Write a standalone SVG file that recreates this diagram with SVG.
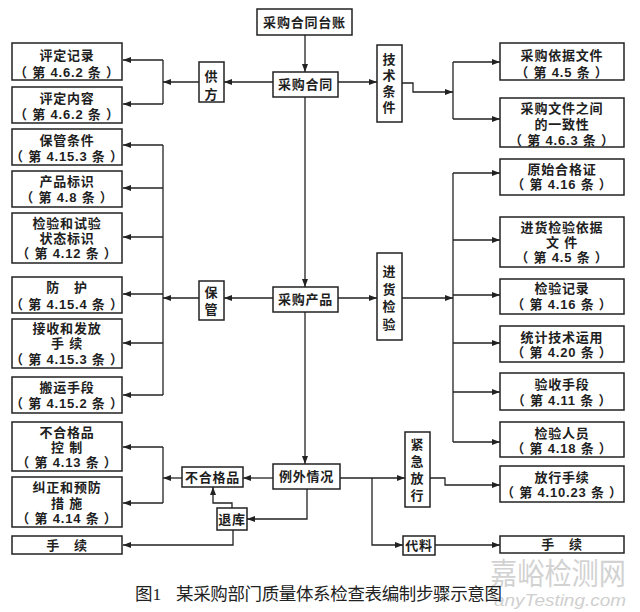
<svg xmlns="http://www.w3.org/2000/svg" width="640" height="612" viewBox="0 0 640 612">
<defs>
<style>
.b{fill:#fff;stroke:#222;stroke-width:1.5}
.t{font-family:"Liberation Sans","Noto Sans CJK SC",sans-serif;font-size:13px;font-weight:700;fill:#1e1e1e;text-anchor:middle;dominant-baseline:central;letter-spacing:0.8px}
.c path{fill:none;stroke:#222;stroke-width:1.3}
.a{marker-end:url(#ah)}
.cap{font-family:"Liberation Serif","Noto Sans CJK SC",serif;font-size:17.5px;fill:#222}
.wm{font-family:"Liberation Sans","Noto Sans CJK SC",sans-serif;fill:#d2d2d2}
</style>
<marker id="ah" viewBox="0 0 8 6" refX="8" refY="3" markerWidth="8" markerHeight="6" markerUnits="userSpaceOnUse" orient="auto"><path d="M0,0L8,3L0,6z" fill="#222"/></marker>
</defs>
<rect width="640" height="612" fill="#fff"/>

<!-- watermark -->
<text class="wm" x="490" y="584" font-size="30" textLength="136" lengthAdjust="spacingAndGlyphs">嘉峪检测网</text>
<text class="wm" x="494" y="606" font-size="16" font-style="italic" textLength="132" lengthAdjust="spacingAndGlyphs" style="fill:#cfcfcf">anyTesting.com</text>

<g class="c">
<path class="a" d="M305,35V72"/>
<path class="a" d="M273,82H224"/>
<path class="a" d="M199,82H163"/>
<path d="M163,60V104"/>
<path class="a" d="M163,60H123"/>
<path class="a" d="M163,104H123"/>
<path class="a" d="M338,82H377"/>
<path class="a" d="M402,83H413V92H453"/>
<path d="M453,62V119"/>
<path class="a" d="M453,62H500"/>
<path class="a" d="M453,119H500"/>
<path class="a" d="M305,97V287"/>
<path class="a" d="M273,298H224"/>
<path class="a" d="M199,298H163"/>
<path d="M163,145V395"/>
<path class="a" d="M163,145H123"/>
<path class="a" d="M163,188H123"/>
<path class="a" d="M163,237H123"/>
<path class="a" d="M163,294H123"/>
<path class="a" d="M163,343H123"/>
<path class="a" d="M163,395H123"/>
<path class="a" d="M338,298H377"/>
<path class="a" d="M402,298H453"/>
<path d="M453,173V442"/>
<path class="a" d="M453,173H500"/>
<path class="a" d="M453,240H500"/>
<path class="a" d="M453,295H500"/>
<path class="a" d="M453,343H500"/>
<path class="a" d="M453,392H500"/>
<path class="a" d="M453,442H500"/>
<path class="a" d="M305,312V464"/>
<path class="a" d="M273,478H243"/>
<path class="a" d="M182,478H163"/>
<path d="M163,447V503"/>
<path class="a" d="M163,447H123"/>
<path class="a" d="M163,503H123"/>
<path class="a" d="M307,489V519H247"/>
<path class="a" d="M232,508V503H213V487"/>
<path class="a" d="M233,530V545H123"/>
<path class="a" d="M340,478H405"/>
<path class="a" d="M430,478H445V485H500"/>
<path class="a" d="M372,478V545H403"/>
<path class="a" d="M435,545H500"/>
</g>

<g id="n_taizhang"><rect class="b" x="257" y="9" width="95" height="26"/><text class="t" x="304.5" y="22">采购合同台账</text></g>
<g id="n_hetong"><rect class="b" x="273" y="72" width="65" height="25"/><text class="t" x="305.5" y="84.5">采购合同</text></g>
<g id="n_chanpin"><rect class="b" x="273" y="287" width="65" height="25"/><text class="t" x="305.5" y="299.5">采购产品</text></g>
<g id="n_liwai"><rect class="b" x="273" y="464" width="67" height="25"/><text class="t" x="306.5" y="476.5">例外情况</text></g>

<g id="n_gongfang"><rect class="b" x="199" y="62" width="25" height="40"/><text class="t" x="211.5" y="76">供</text><text class="t" x="211.5" y="94">方</text></g>
<g id="n_jishu"><rect class="b" x="377" y="45" width="25" height="77"/><text class="t" x="389.5" y="59">技</text><text class="t" x="389.5" y="75">术</text><text class="t" x="389.5" y="91">条</text><text class="t" x="389.5" y="107">件</text></g>
<g id="n_baoguan"><rect class="b" x="199" y="281" width="25" height="39"/><text class="t" x="211.5" y="292">保</text><text class="t" x="211.5" y="309">管</text></g>
<g id="n_jinhuo"><rect class="b" x="377" y="253" width="25" height="87"/><text class="t" x="389.5" y="271">进</text><text class="t" x="389.5" y="289">货</text><text class="t" x="389.5" y="306">检</text><text class="t" x="389.5" y="324">验</text></g>
<g id="n_jinji"><rect class="b" x="405" y="432" width="25" height="75"/><text class="t" x="417.5" y="444">紧</text><text class="t" x="417.5" y="461">急</text><text class="t" x="417.5" y="478">放</text><text class="t" x="417.5" y="495">行</text></g>
<g id="n_buhege"><rect class="b" x="182" y="467" width="61" height="20"/><text class="t" x="212.5" y="477">不合格品</text></g>
<g id="n_tuiku"><rect class="b" x="217" y="508" width="30" height="22"/><text class="t" x="232" y="519">退库</text></g>
<g id="n_dailiao"><rect class="b" x="403" y="536" width="32" height="19"/><text class="t" x="419" y="545.5">代料</text></g>

<g id="n_pdjl"><rect class="b" x="12" y="43" width="110" height="37"/><text class="t" x="67" y="55">评定记录</text><text class="t" x="67" y="72">（ 第 4.6.2 条 ）</text></g>
<g id="n_pdnr"><rect class="b" x="12" y="87" width="110" height="36"/><text class="t" x="67" y="98">评定内容</text><text class="t" x="67" y="114">（ 第 4.6.2 条 ）</text></g>
<g id="n_bgtj"><rect class="b" x="12" y="129" width="110" height="36"/><text class="t" x="67" y="140">保管条件</text><text class="t" x="67" y="156">（ 第 4.15.3 条 ）</text></g>
<g id="n_cpbs"><rect class="b" x="12" y="171" width="110" height="36"/><text class="t" x="67" y="181">产品标识</text><text class="t" x="67" y="197">（ 第 4.8 条 ）</text></g>
<g id="n_jybs"><rect class="b" x="12" y="213" width="110" height="50"/><text class="t" x="67" y="223">检验和试验</text><text class="t" x="67" y="238">状态标识</text><text class="t" x="67" y="253">（ 第 4.12 条 ）</text></g>
<g id="n_fanghu"><rect class="b" x="12" y="277" width="110" height="36"/><text class="t" x="67" y="287">防　护</text><text class="t" x="67" y="304">（ 第 4.15.4 条 ）</text></g>
<g id="n_jsff"><rect class="b" x="12" y="319" width="110" height="49"/><text class="t" x="67" y="328">接收和发放</text><text class="t" x="67" y="343">手 续</text><text class="t" x="67" y="359">（ 第 4.15.3 条 ）</text></g>
<g id="n_bysd"><rect class="b" x="12" y="377" width="110" height="36"/><text class="t" x="67" y="387">搬运手段</text><text class="t" x="67" y="403">（ 第 4.15.2 条 ）</text></g>
<g id="n_bhgkz"><rect class="b" x="12" y="422" width="110" height="49"/><text class="t" x="67" y="432">不合格品</text><text class="t" x="67" y="447">控 制</text><text class="t" x="67" y="462">（ 第 4.13 条 ）</text></g>
<g id="n_jzyf"><rect class="b" x="12" y="477" width="110" height="50"/><text class="t" x="67" y="487">纠正和预防</text><text class="t" x="67" y="503">措 施</text><text class="t" x="67" y="518">（ 第 4.14 条 ）</text></g>
<g id="n_shouxu_l"><rect class="b" x="12" y="536" width="110" height="18"/><text class="t" x="67" y="545">手　续</text></g>

<g id="n_cgyj"><rect class="b" x="500" y="43" width="124" height="37"/><text class="t" x="562" y="55">采购依据文件</text><text class="t" x="562" y="72">（ 第 4.5 条 ）</text></g>
<g id="n_yzx"><rect class="b" x="500" y="98" width="124" height="49"/><text class="t" x="562" y="108">采购文件之间</text><text class="t" x="562" y="124">的一致性</text><text class="t" x="562" y="140">（ 第 4.6.3 条 ）</text></g>
<g id="n_yshg"><rect class="b" x="500" y="159" width="124" height="36"/><text class="t" x="562" y="169">原始合格证</text><text class="t" x="562" y="184">（ 第 4.16 条 ）</text></g>
<g id="n_jhyj"><rect class="b" x="500" y="217" width="124" height="50"/><text class="t" x="562" y="227">进货检验依据</text><text class="t" x="562" y="242">文 件</text><text class="t" x="562" y="257">（ 第 4.5 条 ）</text></g>
<g id="n_jyjl"><rect class="b" x="500" y="279" width="124" height="35"/><text class="t" x="562" y="288">检验记录</text><text class="t" x="562" y="304">（ 第 4.16 条 ）</text></g>
<g id="n_tjjs"><rect class="b" x="500" y="326" width="124" height="36"/><text class="t" x="562" y="337">统计技术运用</text><text class="t" x="562" y="352">（ 第 4.20 条 ）</text></g>
<g id="n_yssd"><rect class="b" x="500" y="373" width="124" height="37"/><text class="t" x="562" y="384">验收手段</text><text class="t" x="562" y="400">（ 第 4.11 条 ）</text></g>
<g id="n_jyry"><rect class="b" x="500" y="422" width="124" height="35"/><text class="t" x="562" y="433">检验人员</text><text class="t" x="562" y="448">（ 第 4.18 条 ）</text></g>
<g id="n_fxsx"><rect class="b" x="500" y="466" width="124" height="36"/><text class="t" x="562" y="477">放行手续</text><text class="t" x="562" y="492">（ 第 4.10.23 条 ）</text></g>
<g id="n_shouxu_r"><rect class="b" x="500" y="536" width="124" height="17"/><text class="t" x="562" y="544.5">手　续</text></g>

<text class="cap" x="135" y="600">图1</text>
<text class="cap" x="176" y="600" textLength="326">某采购部门质量体系检查表编制步骤示意图</text>
</svg>
